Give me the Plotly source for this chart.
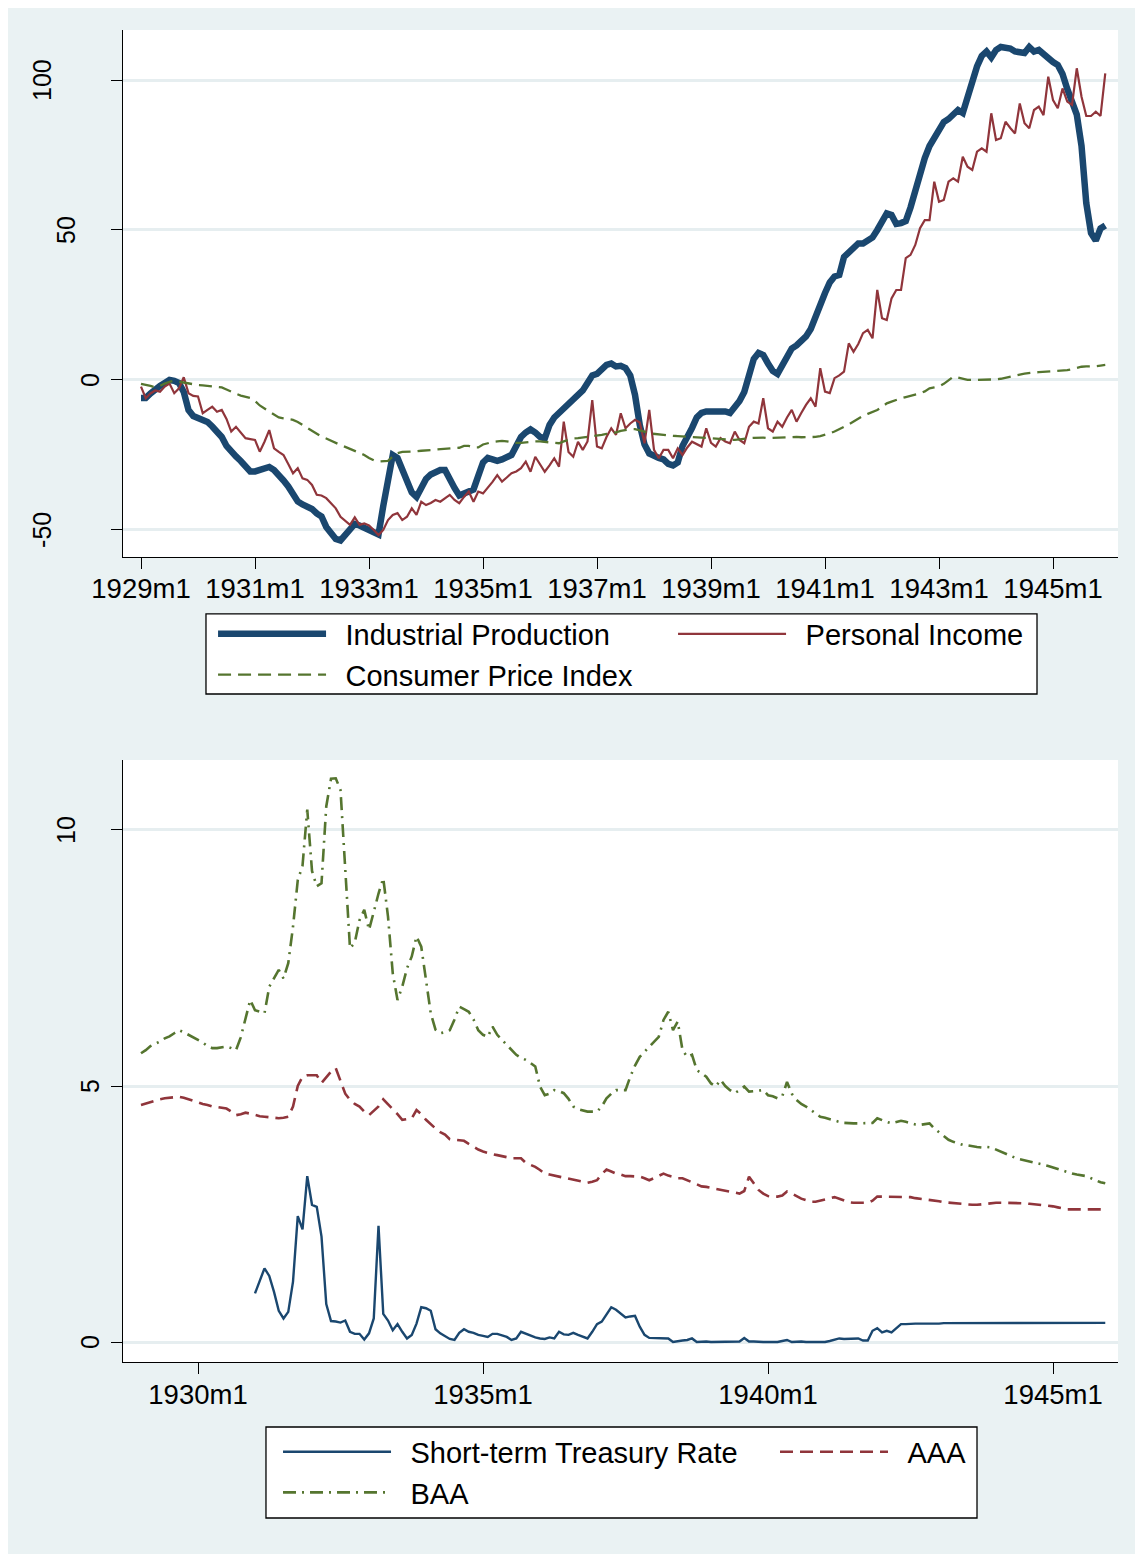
import plotly.graph_objects as go

# ---------------- data (monthly, index 0 = 1929m1 ... 203 = 1945m12) ----------------
n_months = 204
month_index = list(range(n_months))

top_tickvals = [0, 24, 48, 72, 96, 120, 144, 168, 192]
top_ticktext = ["1929m1", "1931m1", "1933m1", "1935m1", "1937m1", "1939m1", "1941m1", "1943m1", "1945m1"]
bot_tickvals = [12, 72, 132, 192]
bot_ticktext = ["1930m1", "1935m1", "1940m1", "1945m1"]
top_yticks = [-50, 0, 50, 100]
bot_yticks = [0, 5, 10]

industrial_production = (
    [-6, -6, -4.5, -3, -2, -1, 0, -0.3, -1, -4, -10, -12]                      # 1929
    + [-12.5, -13, -14, -15.5, -17, -19, -22, -24, -25.5, -27, -29, -30.5]      # 1930
    + [-30.5, -30, -29, -29, -30, -31.5, -33.5, -35.5, -38, -40.5, -41.5, -42]  # 1931
    + [-43, -44.5, -45.5, -49, -51.5, -53, -53.5, -51.5, -49.3, -48, -48.5, -49.3]  # 1932
    + [-50, -50.5, -51.5, -42, -32, -25, -26, -30, -34, -37.5, -39, -36]        # 1933
    + [-33, -31.5, -30.5, -30, -30, -33.5, -36, -38.5, -38, -37, -36.5, -32]    # 1934
    + [-27.5, -26, -26.5, -27, -26.5, -26, -25, -22, -19, -17.5, -16.5, -17.5]  # 1935
    + [-19, -19.5, -15, -12.5, -11, -9.5, -8, -6.5, -5, -3.5, -1, 1.5]          # 1936
    + [2, 3.5, 5, 5.5, 4.5, 4.7, 4, 1.5, -5, -15, -21.5, -24.5]                  # 1937
    + [-25.5, -26, -26.5, -28, -28.5, -27.5, -22, -19.5, -16, -12.5, -11, -10.5]  # 1938
    + [-10.5, -10, -10, -10.5, -11, -9, -7, -4, 2, 7, 9, 8.3]                   # 1939
    + [5.5, 3, 2, 5, 8, 10.5, 11.5, 13, 14.5, 17, 20.5, 25]                     # 1940
    + [29, 32.5, 34.5, 35, 41, 42.5, 44, 45.5, 45.5, 46.5, 47.5, 50]            # 1941
    + [52.5, 55.5, 55, 52, 52.3, 53, 57.5, 63, 69, 74, 78, 80.5]                # 1942
    + [83, 86, 87, 88.5, 90, 89, 94, 100, 104.5, 108, 109.5, 107.5]             # 1943
    + [110, 111, 111, 110.5, 109.5, 109, 109, 111, 109.5, 110, 108.5, 107]      # 1944
    + [106, 105, 102, 97, 93, 88.5, 78, 59, 49, 46.5, 50.5, 51.5]               # 1945
)

personal_income = (
    [-2.2, -6.1, -4.5, -3.5, -3.9, -2.2, -1.2, -4.4, -2.8, 0.9, -4.4, -5.3]
    + [-5.5, -11.1, -10, -8.9, -10.6, -10, -13, -17.2, -15.6, -17.5, -19.4, -19.7]
    + [-20, -23.9, -20.6, -16.7, -22.8, -24, -25, -28, -31.1, -29.4, -32.8, -33.3]
    + [-35, -38.3, -38.5, -39.4, -41, -42.8, -45.6, -47, -48.3, -45.8, -48.3, -47.8]
    + [-48.5, -50, -51.7, -50, -46.7, -45, -44.4, -46.7, -45.6, -42.8, -45, -40.6]
    + [-41.7, -41, -40, -40.6, -39.5, -38.3, -40, -41.1, -39, -37.2, -40.6, -37.2]
    + [-37.8, -36, -34, -31.7, -33.9, -32.5, -31.1, -30.5, -29.4, -27.2, -30.6, -25.6]
    + [-28, -30.6, -28.5, -26.1, -28.9, -13.9, -24, -25.6, -20.6, -23.3, -20.5, -6.7]
    + [-22.2, -22.8, -19, -16.1, -18.3, -11.1, -16.1, -14.5, -13.3, -14.2, -21.1, -10]
    + [-23.3, -26.1, -23.3, -23.3, -26.1, -22.8, -25, -22.5, -20.6, -21.5, -22.2, -16.1]
    + [-21, -22.2, -19.4, -20.5, -21.1, -17.2, -20, -21.1, -15.6, -13.9, -14.5, -6.1]
    + [-16.1, -17.2, -13.9, -15.6, -12.5, -10, -13.9, -11, -8.3, -6.1, -8.9, 3.9]
    + [-3.9, -4.4, 0.6, 1.5, 2.8, 12.2, 9.4, 12, 15.6, 16.7, 13.9, 30]
    + [20.6, 20, 27.2, 30, 30, 40.6, 41.7, 45, 50.6, 53.3, 53.3, 66.1]
    + [59.4, 60, 66.1, 67.2, 66.1, 74.4, 71.1, 70, 76.1, 77.2, 76.1, 88.9]
    + [80, 80.6, 86.1, 84, 82.2, 92.2, 85.6, 83.9, 90, 91.1, 88.3, 101.1]
    + [93.3, 90.6, 97.2, 92.8, 91.7, 103.9, 94.4, 88, 88, 89.4, 88, 102.2]
)

consumer_price_index = (
    [-1.3, -1.6, -2, -2.5, -2, -1.2, -0.6, -0.3, -0.6, -0.8, -1.2, -1.5]
    + [-1.7, -1.8, -2, -2.2, -2.3, -2.5, -3.2, -4, -4.6, -5.2, -5.5, -6]
    + [-7, -8.5, -9.5, -10.5, -11.5, -12.5, -12.8, -13, -13.3, -14, -15, -16]
    + [-17, -18, -18.9, -19.5, -20.3, -21, -21.7, -22.3, -23, -23.5, -24.2, -25]
    + [-26, -26.8, -27.2, -27.2, -27, -25.5, -24.4, -24, -24, -23.9, -23.8, -23.6]
    + [-23.5, -23.4, -23.3, -23.2, -23.1, -23, -22.8, -22.6, -22, -22, -22.5, -22.5]
    + [-21.5, -21, -20.7, -20.5, -20.3, -20.5, -20.8, -21, -21, -20.8, -20.5, -20.5]
    + [-20.5, -20.6, -20.8, -21, -21.1, -20.5, -20, -19.5, -19.4, -19.2, -19, -18.9]
    + [-18.6, -18.3, -18, -17.8, -17.5, -17, -16.6, -16.4, -16.4, -16.7, -17.2, -17.8]
    + [-18, -18.2, -18.3, -18.4, -18.6, -18.7, -18.8, -19, -19.1, -19.3, -19.4, -19.5]
    + [-19.6, -19.7, -19.8, -19.9, -20, -20, -19.8, -19.5, -19.4, -19.3, -19.2, -19.2]
    + [-19.4, -19.3, -19.2, -19.1, -19, -18.9, -19, -19.1, -19.1, -19.1, -19, -18.7]
    + [-18.3, -17.8, -17.2, -16.5, -15.6, -14.8, -13.9, -12.8, -12, -11.3, -10.6, -10]
    + [-9, -7.8, -7.2, -6.6, -6.1, -5.7, -5.3, -5, -4.5, -3.8, -2.8, -2.5]
    + [-2.2, -1.3, -0.2, 1.1, 0.8, 0.4, 0, 0, 0, 0, 0.1, 0.2]
    + [0.2, 0.4, 0.8, 1.1, 1.4, 1.8, 2.1, 2.4, 2.5, 2.6, 2.7, 2.8]
    + [2.9, 3, 3.1, 3.3, 3.6, 4, 4.4, 4.5, 4.5, 4.6, 4.8, 5]
)

treasury_rate = (
    [None] * 24                                                                  # 1929-1930: no data
    + [0.95, 1.2, 1.44, 1.29, 0.98, 0.61, 0.46, 0.59, 1.18, 2.46, 2.2, 3.24]    # 1931
    + [2.68, 2.64, 2.06, 0.74, 0.41, 0.4, 0.38, 0.42, 0.2, 0.16, 0.16, 0.05]
    + [0.17, 0.46, 2.27, 0.55, 0.42, 0.23, 0.35, 0.2, 0.07, 0.14, 0.36, 0.68]
    + [0.66, 0.61, 0.25, 0.17, 0.12, 0.06, 0.04, 0.18, 0.25, 0.2, 0.18, 0.14]
    + [0.12, 0.1, 0.16, 0.16, 0.13, 0.1, 0.04, 0.07, 0.2, 0.16, 0.12, 0.09]
    + [0.07, 0.06, 0.09, 0.07, 0.2, 0.15, 0.14, 0.18, 0.14, 0.1, 0.07, 0.2]
    + [0.35, 0.4, 0.55, 0.68, 0.63, 0.55, 0.48, 0.5, 0.51, 0.3, 0.14, 0.08]
    + [0.08, 0.07, 0.07, 0.07, 0.0, 0.02, 0.03, 0.04, 0.07, 0.0, 0.01, 0.01]
    + [0.0, 0.0, 0.0, 0.01, 0.01, 0.01, 0.01, 0.08, 0.01, 0.01, 0.0, 0.0]
    + [0.0, 0.0, 0.0, 0.02, 0.04, 0.0, 0.01, 0.01, 0.0, 0.0, 0.0, 0.0]
    + [0.0, 0.02, 0.05, 0.07, 0.06, 0.06, 0.07, 0.07, 0.03, 0.03, 0.22, 0.27]
    + [0.19, 0.22, 0.19, 0.28, 0.35, 0.35, 0.36, 0.36, 0.36, 0.36, 0.36, 0.35]
    + [0.36, 0.37, 0.37, 0.37, 0.37, 0.37, 0.37, 0.37, 0.37, 0.37, 0.37, 0.37]
    + [0.375, 0.375, 0.375, 0.375, 0.375, 0.375, 0.375, 0.375, 0.375, 0.375, 0.375, 0.375]
    + [0.375, 0.375, 0.375, 0.375, 0.375, 0.375, 0.375, 0.375, 0.375, 0.375, 0.375, 0.375]
)

aaa_yield = (
    [4.63, 4.66, 4.69, 4.72, 4.74, 4.76, 4.77, 4.78, 4.79, 4.77, 4.74, 4.7]
    + [4.67, 4.65, 4.63, 4.6, 4.59, 4.57, 4.56, 4.5, 4.43, 4.45, 4.48, 4.46]
    + [4.43, 4.41, 4.4, 4.39, 4.37, 4.37, 4.38, 4.4, 4.6, 5.0, 5.18, 5.21]
    + [5.21, 5.21, 5.06, 5.18, 5.28, 5.35, 5.08, 4.85, 4.73, 4.65, 4.6, 4.5]
    + [4.43, 4.52, 4.6, 4.74, 4.65, 4.56, 4.45, 4.34, 4.36, 4.37, 4.53, 4.45]
    + [4.34, 4.25, 4.17, 4.1, 4.05, 3.96, 3.95, 3.94, 3.93, 3.87, 3.81, 3.76]
    + [3.72, 3.69, 3.67, 3.65, 3.63, 3.61, 3.59, 3.59, 3.59, 3.5, 3.46, 3.42]
    + [3.36, 3.29, 3.27, 3.25, 3.23, 3.21, 3.19, 3.17, 3.16, 3.14, 3.11, 3.13]
    + [3.16, 3.28, 3.37, 3.33, 3.29, 3.27, 3.24, 3.24, 3.23, 3.23, 3.2, 3.16]
    + [3.2, 3.25, 3.29, 3.25, 3.22, 3.2, 3.2, 3.16, 3.13, 3.08, 3.04, 3.03]
    + [3.01, 2.99, 2.98, 2.96, 2.94, 2.92, 2.9, 2.95, 3.23, 3.1, 2.97, 2.9]
    + [2.85, 2.84, 2.84, 2.86, 2.94, 2.9, 2.85, 2.8, 2.77, 2.74, 2.74, 2.76]
    + [2.78, 2.8, 2.83, 2.8, 2.76, 2.73, 2.72, 2.72, 2.72, 2.72, 2.76, 2.84]
    + [2.84, 2.84, 2.84, 2.84, 2.84, 2.84, 2.83, 2.81, 2.8, 2.79, 2.78, 2.76]
    + [2.75, 2.73, 2.72, 2.71, 2.7, 2.69, 2.68, 2.68, 2.68, 2.69, 2.7, 2.72]
    + [2.72, 2.72, 2.72, 2.71, 2.71, 2.71, 2.71, 2.7, 2.69, 2.68, 2.68, 2.67]
    + [2.65, 2.63, 2.61, 2.59, 2.59, 2.59, 2.59, 2.59, 2.59, 2.59, 2.59, 2.59]
)

baa_yield = (
    [5.64, 5.7, 5.78, 5.82, 5.87, 5.93, 5.97, 6.03, 6.09, 6.05, 6.0, 5.95]
    + [5.9, 5.85, 5.78, 5.74, 5.74, 5.76, 5.77, 5.74, 5.7, 5.95, 6.3, 6.68]
    + [6.48, 6.45, 6.42, 6.94, 7.1, 7.27, 7.1, 7.4, 8.11, 9.02, 9.3, 10.4]
    + [9.2, 8.9, 8.96, 10.46, 11.0, 11.01, 10.78, 9.22, 7.69, 7.8, 8.24, 8.44]
    + [8.05, 8.4, 8.76, 9.06, 8.31, 7.2, 6.68, 6.94, 7.3, 7.53, 7.92, 7.72]
    + [7.07, 6.42, 6.1, 6.03, 6.05, 6.09, 6.3, 6.55, 6.5, 6.45, 6.3, 6.09]
    + [6.0, 5.96, 6.16, 6.0, 5.9, 5.8, 5.7, 5.61, 5.55, 5.51, 5.45, 5.38]
    + [4.99, 4.82, 4.85, 4.92, 4.9, 4.86, 4.75, 4.6, 4.55, 4.52, 4.5, 4.5]
    + [4.5, 4.6, 4.76, 4.85, 4.92, 4.92, 4.92, 5.18, 5.4, 5.57, 5.67, 5.77]
    + [5.87, 5.96, 6.29, 6.45, 6.09, 6.26, 5.7, 5.57, 5.61, 5.31, 5.25, 5.18]
    + [5.05, 4.99, 5.12, 5.0, 4.92, 4.86, 4.92, 4.99, 4.89, 4.9, 4.92, 4.92]
    + [4.82, 4.8, 4.76, 4.8, 5.08, 4.85, 4.73, 4.65, 4.6, 4.53, 4.47, 4.4]
    + [4.38, 4.35, 4.32, 4.3, 4.28, 4.27, 4.27, 4.27, 4.27, 4.28, 4.28, 4.37]
    + [4.33, 4.3, 4.27, 4.29, 4.32, 4.3, 4.27, 4.25, 4.24, 4.26, 4.27, 4.17]
    + [4.1, 4.02, 3.95, 3.91, 3.88, 3.85, 3.84, 3.82, 3.81, 3.8, 3.81, 3.8]
    + [3.76, 3.72, 3.67, 3.63, 3.6, 3.57, 3.55, 3.53, 3.51, 3.49, 3.47, 3.44]
    + [3.41, 3.38, 3.34, 3.31, 3.29, 3.27, 3.25, 3.24, 3.2, 3.16, 3.12, 3.1]
)

# ---------------- style ----------------
NAVY = "#1A476F"
MAROON = "#90353B"
GREEN = "#55752F"
BG = "#EAF2F3"
GRID = "#E6EEF0"
FONT = "Liberation Sans, Arial, Helvetica, sans-serif"
GAP = "\u2002"  # spacing between legend key and label text

W, H = 1135, 1546
fig = go.Figure()

fig.add_trace(go.Scatter(x=month_index, y=industrial_production, mode="lines",
                         name=GAP + "Industrial Production", line=dict(color=NAVY, width=6.5),
                         xaxis="x", yaxis="y", legend="legend"))
fig.add_trace(go.Scatter(x=month_index, y=personal_income, mode="lines",
                         name=GAP + "Personal Income", line=dict(color=MAROON, width=2.2),
                         xaxis="x", yaxis="y", legend="legend"))
fig.add_trace(go.Scatter(x=month_index, y=consumer_price_index, mode="lines",
                         name=GAP + "Consumer Price Index", line=dict(color=GREEN, width=2.3, dash="13px,7px"),
                         xaxis="x", yaxis="y", legend="legend", legendwidth=337))

fig.add_trace(go.Scatter(x=month_index, y=treasury_rate, mode="lines",
                         name=GAP + "Short-term Treasury Rate", line=dict(color=NAVY, width=2.4),
                         xaxis="x2", yaxis="y2", legend="legend2"))
fig.add_trace(go.Scatter(x=month_index, y=aaa_yield, mode="lines",
                         name=GAP + "AAA", line=dict(color=MAROON, width=2.6, dash="13px,7px"),
                         xaxis="x2", yaxis="y2", legend="legend2"))
fig.add_trace(go.Scatter(x=month_index, y=baa_yield, mode="lines",
                         name=GAP + "BAA", line=dict(color=GREEN, width=2.6, dash="13px,6px,2px,6px"),
                         xaxis="x2", yaxis="y2", legend="legend2", legendwidth=374))

line_common = dict(showline=True, linecolor="black", linewidth=1.3, ticks="outside",
                   ticklen=11, tickwidth=1.3, tickcolor="black", zeroline=False)
xtickfont = dict(family=FONT, size=27.5, color="black")

# Rotated value labels on the y axes (Stata style: vertical labels)
annotations = []
for yref, ticks in (("y", top_yticks), ("y2", bot_yticks)):
    for v in ticks:
        label = str(v)
        annotations.append(dict(
            x=0, xref="paper", y=v, yref=yref, text=label, showarrow=False,
            textangle=-90, xanchor="center", yanchor="middle",
            xshift=(90 - 24 * (len(label) - 1)) - 123,
            font=dict(family=FONT, size=25, color="black"),
        ))

fig.update_layout(
    width=W, height=H,
    margin=dict(l=115, r=25, t=22, b=192),
    paper_bgcolor=BG, plot_bgcolor="white",
    font=dict(family=FONT, color="black"),
    xaxis=dict(domain=[0, 1], anchor="y", range=[-3.79, 205.68], tickmode="array",
               tickvals=top_tickvals, ticktext=top_ticktext, showgrid=False,
               tickfont=xtickfont, ticklabelstandoff=-4, **line_common),
    yaxis=dict(domain=[0.6044, 1], anchor="x", range=[-59, 116.67], tickmode="array",
               tickvals=top_yticks, showticklabels=False,
               showgrid=True, gridcolor=GRID, gridwidth=2.5, **line_common),
    xaxis2=dict(domain=[0, 1], anchor="y2", range=[-3.79, 205.68], tickmode="array",
                tickvals=bot_tickvals, ticktext=bot_ticktext, showgrid=False,
                tickfont=xtickfont, ticklabelstandoff=-3, **line_common),
    yaxis2=dict(domain=[0, 0.45195], anchor="x2", range=[-0.39, 11.367], tickmode="array",
                tickvals=bot_yticks, showticklabels=False,
                showgrid=True, gridcolor=GRID, gridwidth=2.5, **line_common),
    legend=dict(orientation="h", x=0.0905, y=0.5657, xanchor="left", yanchor="top",
                itemwidth=108, bgcolor="rgba(0,0,0,0)", borderwidth=0, traceorder="normal",
                font=dict(family=FONT, size=29, color="black")),
    legend2=dict(orientation="h", x=0.1558, y=-0.0483, xanchor="left", yanchor="top",
                 itemwidth=108, bgcolor="rgba(0,0,0,0)", borderwidth=0, traceorder="normal",
                 font=dict(family=FONT, size=29, color="black")),
    shapes=[
        dict(type="rect", xref="paper", yref="paper", x0=0.0834, x1=0.9186, y0=0.5015, y1=0.5616,
             line=dict(color="black", width=1.3), fillcolor="white", layer="below"),
        dict(type="rect", xref="paper", yref="paper", x0=0.1437, x1=0.8583, y0=-0.1171, y1=-0.0488,
             line=dict(color="black", width=1.3), fillcolor="white", layer="below"),
    ],
    annotations=annotations,
    showlegend=True,
)

fig.write_html("out.html")
